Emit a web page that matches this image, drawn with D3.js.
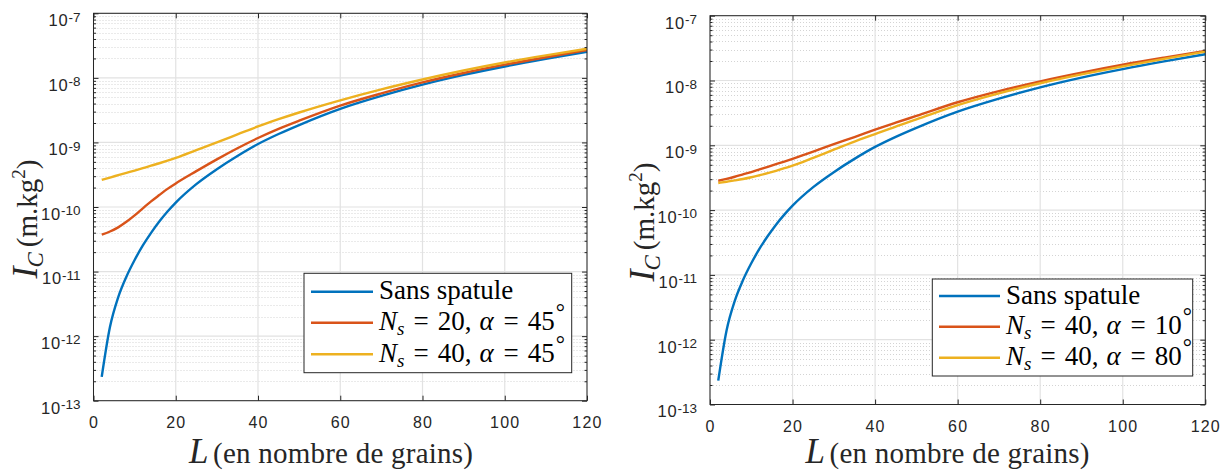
<!DOCTYPE html>
<html><head><meta charset="utf-8">
<script src="https://cdn.jsdelivr.net/npm/d3@7"></script>
<style>body{margin:0;background:#fff}svg{display:block}</style>
</head><body>
<svg id="c" width="1227" height="470"></svg>
<script>
// ---- data ----
const L = [2,4,6,8,10,12,14,16,18,20,25,30,35,40,45,50,60,70,80,90,100,110,120];
const sansSpatule = [2.34e-13,1.38e-12,3.98e-12,8.32e-12,1.51e-11,2.54e-11,3.98e-11,5.96e-11,8.51e-11,1.17e-10,2.26e-10,3.85e-10,6.17e-10,9.44e-10,1.35e-9,1.86e-9,3.31e-9,5.25e-9,7.85e-9,1.11e-8,1.50e-8,1.97e-8,2.54e-8];
const ns20a45 = [3.72e-11,4.17e-11,4.84e-11,5.89e-11,7.41e-11,9.55e-11,1.22e-10,1.53e-10,1.91e-10,2.32e-10,3.59e-10,5.47e-10,8.13e-10,1.17e-9,1.62e-9,2.17e-9,3.72e-9,5.75e-9,8.51e-9,1.19e-8,1.60e-8,2.09e-8,2.69e-8];
const ns40a45 = [2.64e-10,2.86e-10,3.11e-10,3.38e-10,3.67e-10,4.00e-10,4.36e-10,4.76e-10,5.22e-10,5.75e-10,7.59e-10,1.00e-9,1.33e-9,1.77e-9,2.29e-9,2.91e-9,4.49e-9,6.64e-9,9.44e-9,1.30e-8,1.73e-8,2.23e-8,2.82e-8];
const ns40a10 = [2.84e-10,3.03e-10,3.27e-10,3.56e-10,3.86e-10,4.24e-10,4.65e-10,5.11e-10,5.62e-10,6.19e-10,7.98e-10,1.04e-9,1.34e-9,1.74e-9,2.23e-9,2.84e-9,4.62e-9,6.87e-9,9.70e-9,1.32e-8,1.75e-8,2.25e-8,2.85e-8];
const ns40a80 = [2.62e-10,2.74e-10,2.87e-10,3.02e-10,3.21e-10,3.45e-10,3.72e-10,4.04e-10,4.43e-10,4.85e-10,6.40e-10,8.57e-10,1.14e-9,1.49e-9,1.95e-9,2.51e-9,4.17e-9,6.34e-9,9.06e-9,1.24e-8,1.65e-8,2.16e-8,2.79e-8];
const xTicks = [0,20,40,60,80,100,120];
const yExponents = [-13,-12,-11,-10,-9,-8,-7];
const leftLabels = [{plain:"Sans spatule"},{ns:"20",alpha:"45"},{ns:"40",alpha:"45"}];
const rightLabels = [{plain:"Sans spatule"},{ns:"40",alpha:"10"},{ns:"40",alpha:"80"}];
const xTitle = "(en nombre de grains)";
const colors = ["#0072BD","#D95319","#EDB120"];

const svg = d3.select("#c");
const INK = "#262626";
const SERIF = "'Liberation Serif','Times New Roman',serif";
const SANS = "'Liberation Sans',Arial,Helvetica,sans-serif";

function panel(p){
  const g = svg.append("g");
  const x = d3.scaleLinear().domain([0,120]).range([p.left,p.right]);
  const y = d3.scaleLog().domain([1e-13,1e-7]).range([p.bottom,p.top]);
  const majors = yExponents.map(e=>Math.pow(10,e));
  const minors = [];
  for(let i=0;i<yExponents.length-1;i++) for(let m=2;m<=9;m++) minors.push(m*Math.pow(10,yExponents[i]));

  // minor grid (dotted)
  g.append("g").selectAll("line").data(minors).join("line")
    .attr("x1",p.left).attr("x2",p.right)
    .attr("y1",d=>Math.round(y(d))+0.5).attr("y2",d=>Math.round(y(d))+0.5)
    .attr("stroke","#d4d4d4").attr("stroke-width",1).attr("stroke-dasharray","1,2");
  // major grid
  g.append("g").selectAll("line").data(majors).join("line")
    .attr("x1",p.left).attr("x2",p.right)
    .attr("y1",d=>y(d)).attr("y2",d=>y(d))
    .attr("stroke","#e2e2e2").attr("stroke-width",1.2);
  g.append("g").selectAll("line").data(xTicks).join("line")
    .attr("x1",d=>x(d)).attr("x2",d=>x(d))
    .attr("y1",p.top).attr("y2",p.bottom)
    .attr("stroke","#e2e2e2").attr("stroke-width",1.2);

  // series
  const line = d3.line().x((d,i)=>x(L[i])).y(d=>y(d)).curve(d3.curveMonotoneX);
  p.series.forEach((s,i)=>{
    g.append("path").datum(s).attr("d",line).attr("fill","none")
      .attr("stroke",colors[i]).attr("stroke-width",2.4).attr("stroke-linejoin","round");
  });

  // axes (inward ticks)
  const style = a=>a.call(s=>s.select(".domain").remove()).selectAll("line").attr("stroke",INK);
  const xb = g.append("g").attr("transform",`translate(0,${p.bottom})`)
    .call(d3.axisBottom(x).tickValues(xTicks).tickSize(-5).tickSizeOuter(0).tickPadding(16));
  style(xb);
  xb.selectAll("text").attr("font-family",SANS).attr("font-size",16).attr("fill",INK).attr("letter-spacing","1.2px");
  const xt = g.append("g").attr("transform",`translate(0,${p.top})`)
    .call(d3.axisTop(x).tickValues(xTicks).tickSize(-5).tickSizeOuter(0).tickFormat(""));
  style(xt);
  [d3.axisLeft,d3.axisRight].forEach((ax,k)=>{
    const pos = k===0?p.left:p.right;
    const a1 = g.append("g").attr("transform",`translate(${pos},0)`)
      .call(ax(y).tickValues(majors).tickSize(-5).tickSizeOuter(0).tickFormat(""));
    style(a1);
    const a2 = g.append("g").attr("transform",`translate(${pos},0)`)
      .call(ax(y).tickValues(minors).tickSize(-2.5).tickSizeOuter(0).tickFormat(""));
    style(a2);
  });
  // box
  g.append("rect").attr("x",p.left).attr("y",p.top).attr("width",p.right-p.left).attr("height",p.bottom-p.top)
    .attr("fill","none").attr("stroke",INK).attr("stroke-width",1);

  // y tick labels 10^e
  const yl = g.append("g").selectAll("text").data(yExponents).join("text")
    .attr("x",p.left-13).attr("y",d=>y(Math.pow(10,d))+12.8)
    .attr("text-anchor","end").attr("font-family",SANS).attr("fill",INK);
  yl.append("tspan").attr("font-size",16.5).attr("letter-spacing","0.8px").text("10");
  yl.append("tspan").attr("font-size",13.5).attr("dy",-4.5).text(d=>"-"+(-d));

  // x label
  g.append("text").attr("x",p.left+95.5).attr("y",463).attr("font-family",SERIF).attr("fill",INK)
    .attr("font-style","italic").attr("font-size",35).text("L");
  g.append("text").attr("x",p.left+119.5).attr("y",463).attr("font-family",SERIF).attr("fill",INK)
    .attr("font-size",29).attr("textLength",260).attr("lengthAdjust","spacing").text(xTitle);

  // y label
  const ylab = g.append("text").attr("transform",`translate(${p.left-56.5},${(p.top+p.bottom)/2+12}) rotate(-90)`)
    .attr("text-anchor","middle").attr("font-family",SERIF).attr("fill",INK);
  ylab.append("tspan").attr("font-style","italic").attr("font-size",36).text("I");
  ylab.append("tspan").attr("font-style","italic").attr("font-size",23).attr("dy",6).attr("dx",-1).text("C");
  ylab.append("tspan").attr("font-size",29).attr("dy",-6).attr("dx",5).text("(m.kg");
  ylab.append("tspan").attr("font-size",19).attr("dy",-12).text("2");
  ylab.append("tspan").attr("font-size",29).attr("dy",12).text(")");

  // legend
  const lg = p.legend;
  g.append("rect").attr("x",lg.x0).attr("y",lg.y0).attr("width",lg.x1-lg.x0).attr("height",lg.y1-lg.y0)
    .attr("fill","#fff").attr("stroke",INK).attr("stroke-width",1);
  p.labels.forEach((lab,i)=>{
    const ry = lg.rows[i];
    g.append("line").attr("x1",lg.s0).attr("x2",lg.s1).attr("y1",ry).attr("y2",ry)
      .attr("stroke",colors[i]).attr("stroke-width",2.4);
    const t = g.append("text").attr("x",lg.tx).attr("y",ry+7.5).attr("font-family",SERIF).attr("font-size",27).attr("fill","#000");
    if(lab.plain){ t.text(lab.plain); }
    else {
      t.append("tspan").attr("font-style","italic").text("N");
      t.append("tspan").attr("font-style","italic").attr("font-size",19).attr("dy",5).text("s");
      t.append("tspan").attr("dy",-5).attr("dx",9).text("=");
      t.append("tspan").attr("dx",9).text(lab.ns+",");
      t.append("tspan").attr("dx",8).attr("font-style","italic").text("\u03b1");
      t.append("tspan").attr("dx",10).text("=");
      t.append("tspan").attr("dx",9).text(lab.alpha);
      t.append("tspan").attr("font-size",23).attr("dy",-10).attr("dx",1).text("\u00b0");
    }
  });
}

panel({left:93.5,right:587,top:13.3,bottom:400.7,series:[sansSpatule,ns20a45,ns40a45],labels:leftLabels,
  legend:{x0:304,x1:571.7,y0:273.3,y1:372.7,s0:311,s1:373,tx:379,rows:[291.7,322.7,354.3]}});
panel({left:710,right:1205.3,top:15.7,bottom:404.5,series:[sansSpatule,ns40a10,ns40a80],labels:rightLabels,
  legend:{x0:932.3,x1:1192.7,y0:279,y1:376,s0:939,s1:1000,tx:1006,rows:[296,326.7,357.7]}});
</script>
</body></html>
